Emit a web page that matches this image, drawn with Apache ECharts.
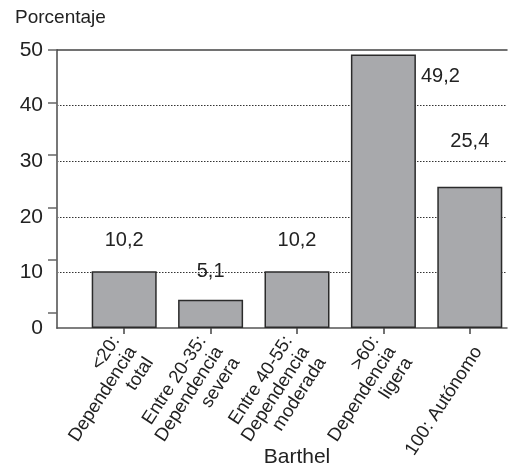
<!DOCTYPE html>
<html>
<head>
<meta charset="utf-8">
<script src="https://cdn.jsdelivr.net/npm/echarts@6/dist/echarts.min.js"></script>
<style>
html,body{margin:0;padding:0;background:#fff;}
#chart{width:525px;height:468px;}
</style>
</head>
<body>
<div id="chart"></div>
<script>
// ---- data ----
var categories = ["<20:\nDependencia\ntotal", "Entre 20-35:\nDependencia\nsevera", "Entre 40-55:\nDependencia\nmoderada", ">60:\nDependencia\nligera", "100: Autónomo"];
var values = [10.2, 5.1, 10.2, 49.2, 25.4];
var yTicks = [0, 10, 20, 30, 40, 50];
var yTitle = "Porcentaje";
var xTitle = "Barthel";

// ---- style ----
var FONT = "Liberation Sans";
var TXT = "#222";
var labelCfg = [
  {position: 'top', distance: 21},
  {position: 'top', distance: 18},
  {position: 'top', distance: 21},
  {position: [70, 12], align: 'left', verticalAlign: 'top'},
  {position: 'top', distance: 35}
];
var seriesData = values.map(function (v, i) {
  return {value: v, label: labelCfg[i]};
});

var chart = echarts.init(document.getElementById('chart'), null, {renderer: 'canvas'});
chart.setOption({
  animation: false,
  backgroundColor: '#fff',
  textStyle: {fontFamily: FONT, color: TXT},
  grid: [
    {left: 57, right: 18, top: 50, bottom: 140},   // frame, y axis
    {left: 81, right: 12, top: 50, bottom: 140}    // bars and categories
  ],
  graphic: [
    {type: 'text', left: 15, top: 8, style: {text: yTitle, font: '19px "' + FONT + '"', fill: TXT}},
    {type: 'text', x: 297, y: 457, style: {text: xTitle, font: '21px "' + FONT + '"', fill: TXT, align: 'center', verticalAlign: 'middle'}}
  ],
  xAxis: [{
    gridIndex: 0,
    type: 'value', min: 0, max: 1,
    axisLine: {show: true, lineStyle: {color: '#555', width: 1.5}},
    axisTick: {show: false}, axisLabel: {show: false}, splitLine: {show: false}
  }, {
    gridIndex: 0,
    type: 'value', position: 'top', min: 0, max: 1,
    axisLine: {show: true, lineStyle: {color: '#444', width: 1.5}},
    axisTick: {show: false}, axisLabel: {show: false}, splitLine: {show: false}
  }, {
    gridIndex: 1,
    type: 'category',
    data: categories,
    axisLine: {show: false},
    axisTick: {show: true, alignWithLabel: true, length: 6, lineStyle: {color: '#444', width: 1.5}},
    axisLabel: {
      interval: 0,
      rotate: 57,
      margin: 15,
      fontSize: 18.5,
      lineHeight: 20,
      color: TXT,
      fontFamily: FONT,
      formatter: function (v) { return '\n' + v; }
    },
    splitLine: {show: false}
  }],
  yAxis: [{
    gridIndex: 0,
    type: 'value',
    min: yTicks[0], max: yTicks[yTicks.length - 1], interval: 10,
    axisLine: {show: true, lineStyle: {color: '#777', width: 2}},
    axisTick: {show: false},
    axisLabel: {margin: 14, fontSize: 21, color: TXT, fontFamily: FONT},
    splitLine: {show: true, showMinLine: false, showMaxLine: false, lineStyle: {color: '#333', type: [1.5, 1.5], width: 1}}
  }, {
    gridIndex: 0,
    type: 'value',
    position: 'left',
    inverse: true,
    min: 0, max: 5.295, interval: 1,
    axisLine: {show: false},
    axisTick: {show: true, customValues: [0, 1, 2, 3, 4, 5], length: 9, lineStyle: {color: '#666', width: 1.5}},
    axisLabel: {show: false},
    splitLine: {show: false}
  }, {
    gridIndex: 1,
    type: 'value',
    min: yTicks[0], max: yTicks[yTicks.length - 1],
    show: false
  }],
  series: [{
    type: 'bar',
    xAxisIndex: 2,
    yAxisIndex: 2,
    barWidth: 65,
    data: seriesData,
    itemStyle: {color: '#a8a9ac', borderColor: '#2b2b2b', borderWidth: 1.5},
    label: {
      show: true,
      fontSize: 20,
      color: TXT,
      fontFamily: FONT,
      formatter: function (p) { return String(p.value).replace('.', ','); }
    }
  }]
});
</script>
</body>
</html>
